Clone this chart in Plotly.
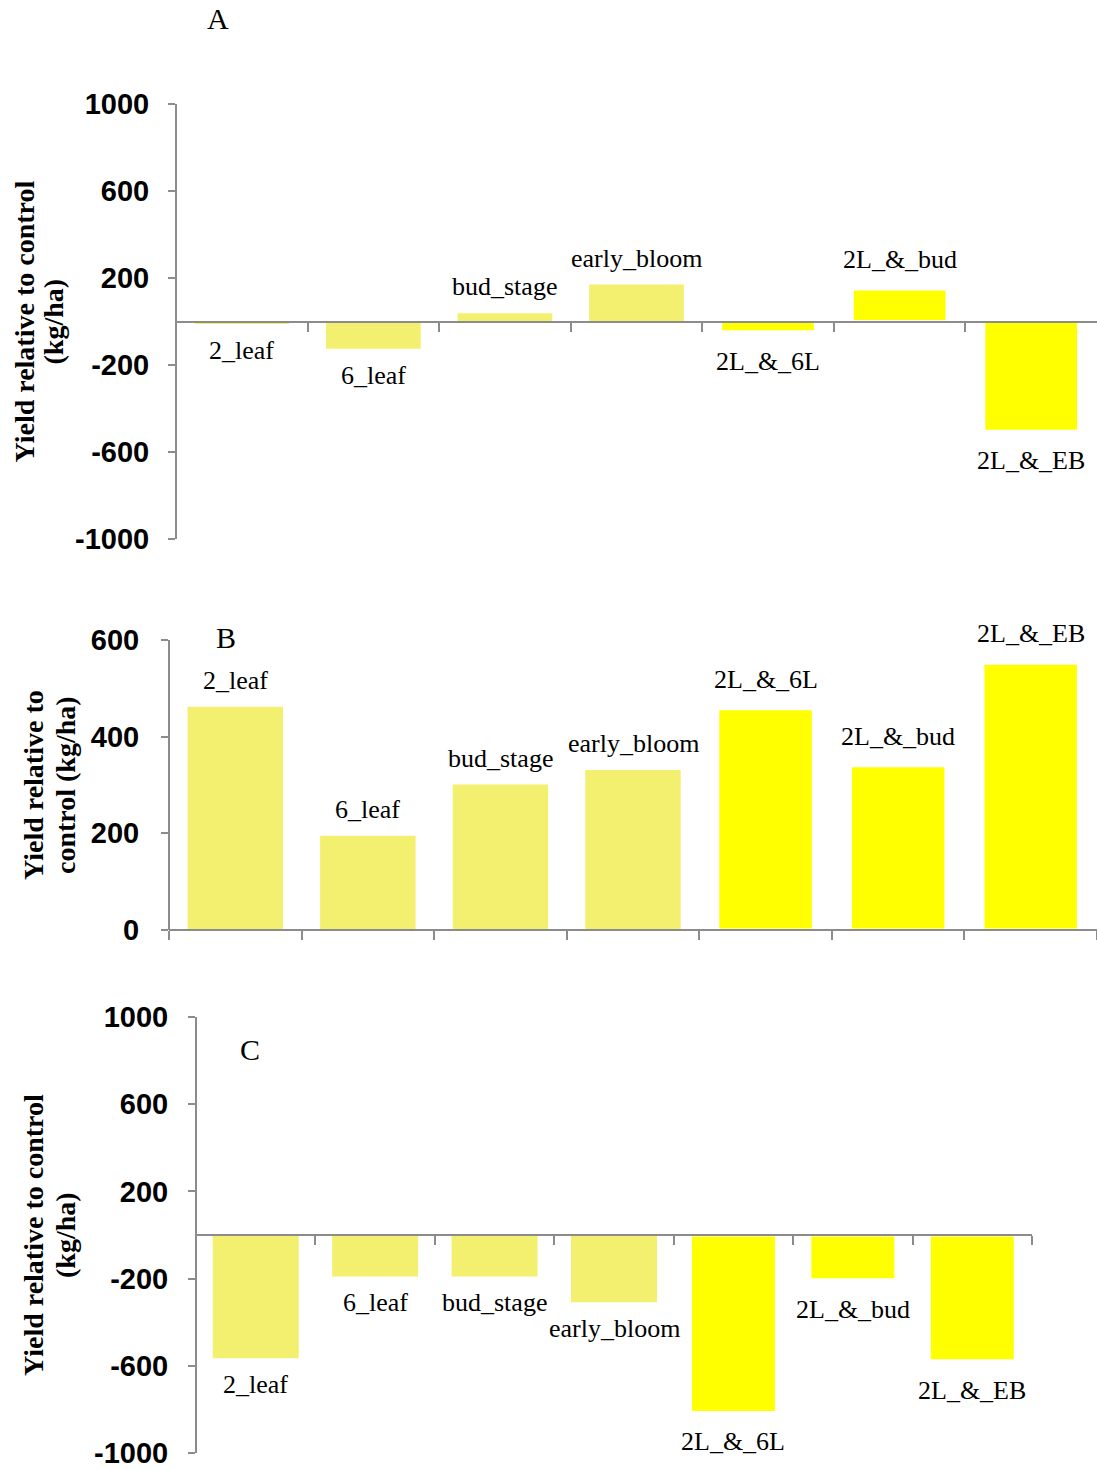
import plotly.graph_objects as go

categories = ["2_leaf", "6_leaf", "bud_stage", "early_bloom", "2L_&_6L", "2L_&_bud", "2L_&_EB"]
values_A = [-12, -125, 38, 170, -47, 150, -505]
values_B = [462, 195, 301, 331, 458, 340, 552]
values_C = [-565, -190, -190, -309, -814, -205, -577]

pale = "#F3F06F"
bright = "#FFFF00"
bar_colors = [pale, pale, pale, pale, bright, bright, bright]
bar_line_colors = [pale, pale, pale, pale, "white", "white", "white"]
bar_line_widths = [0, 0, 0, 0, 3, 3, 3]

W, H = 1097, 1470
AXC = "#8c8c8c"
SERIF = "Liberation Serif"
SANS = "Liberation Sans"

panels = [
    dict(vals=values_A, yrange=[-1000, 1000], tickvals=[-1000, -600, -200, 200, 600, 1000],
         xdom=[176 / W, 1.0], ydom=[1 - 539 / H, 1 - 104 / H], standoff=13,
         letter="A", letter_pos=(218, 18),
         title=["Yield relative to control", "(kg/ha)"], title_x=[24, 53]),
    dict(vals=values_B, yrange=[0, 600], tickvals=[0, 200, 400, 600],
         xdom=[169 / W, 1.0], ydom=[1 - 930 / H, 1 - 640 / H], standoff=16,
         letter="B", letter_pos=(226, 637),
         title=["Yield relative to", "control (kg/ha)"], title_x=[33, 65]),
    dict(vals=values_C, yrange=[-1000, 1000], tickvals=[-1000, -600, -200, 200, 600, 1000],
         xdom=[196 / W, 1032 / W], ydom=[1 - 1453 / H, 1 - 1017 / H], standoff=14,
         letter="C", letter_pos=(250, 1049),
         title=["Yield relative to control", "(kg/ha)"], title_x=[33, 65]),
]

fig = go.Figure()
annotations = []
layout = dict(width=W, height=H, margin=dict(l=0, r=0, t=0, b=0, pad=0),
              paper_bgcolor="white", plot_bgcolor="white", showlegend=False,
              bargap=0.28, template="none")

for i, p in enumerate(panels, start=1):
    xa = "x" if i == 1 else f"x{i}"
    ya = "y" if i == 1 else f"y{i}"
    fig.add_trace(go.Bar(
        x=categories, y=p["vals"], xaxis=xa, yaxis=ya,
        marker=dict(color=bar_colors, line=dict(color=bar_line_colors, width=bar_line_widths)),
        hoverinfo="skip",
    ))
    y0, y1 = p["yrange"]
    d0, d1 = p["ydom"]
    zero_pos = d0 + (0 - y0) / (y1 - y0) * (d1 - d0)
    key = "" if i == 1 else str(i)
    layout["xaxis" + key] = dict(
        domain=p["xdom"], anchor="free", position=zero_pos, automargin=False,
        type="category", range=[-0.5, len(categories) - 0.5],
        showline=True, linecolor=AXC, linewidth=2,
        ticks="outside", tickson="boundaries", ticklen=9, tickwidth=2, tickcolor=AXC,
        showticklabels=False, showgrid=False, zeroline=False, fixedrange=True,
    )
    layout["yaxis" + key] = dict(
        domain=p["ydom"], anchor="free", position=p["xdom"][0], automargin=False,
        range=p["yrange"], tickvals=p["tickvals"],
        ticktext=[str(v) for v in p["tickvals"]],
        ticklabeloverflow="allow",
        showline=True, linecolor=AXC, linewidth=2,
        ticks="outside", ticklen=7, tickwidth=2, tickcolor=AXC,
        ticklabelstandoff=p["standoff"],
        tickfont=dict(family=SANS, size=29, color="black", weight="bold"),
        showgrid=False, zeroline=False, fixedrange=True,
    )
    # data labels
    for c, v, lw in zip(categories, p["vals"], bar_line_widths):
        shift = 10 + (3 if lw else 0)
        annotations.append(dict(
            x=c, y=v, xref=xa, yref=ya, text=c, showarrow=False,
            yanchor="bottom" if v >= 0 else "top",
            yshift=shift if v >= 0 else -shift,
            font=dict(family=SERIF, size=26, color="black"),
        ))
    # panel letter
    lx, ly = p["letter_pos"]
    annotations.append(dict(
        x=lx / W, y=1 - ly / H, xref="paper", yref="paper", text=p["letter"],
        showarrow=False, xanchor="center", yanchor="middle",
        font=dict(family=SERIF, size=30, color="black"),
    ))
    # y-axis title lines
    yc = (d0 + d1) / 2
    for line, tx in zip(p["title"], p["title_x"]):
        annotations.append(dict(
            x=tx / W, y=yc, xref="paper", yref="paper", text=line,
            showarrow=False, textangle=-90, xanchor="center", yanchor="middle",
            font=dict(family=SERIF, size=28, color="black", weight="bold"),
        ))

layout["annotations"] = annotations
fig.update_layout(**layout)
fig.write_html(
    "out.html",
    config={"displayModeBar": False},
    post_script="document.body.style.margin='0';document.body.style.padding='0';"
                "document.body.style.overflow='hidden';",
)
